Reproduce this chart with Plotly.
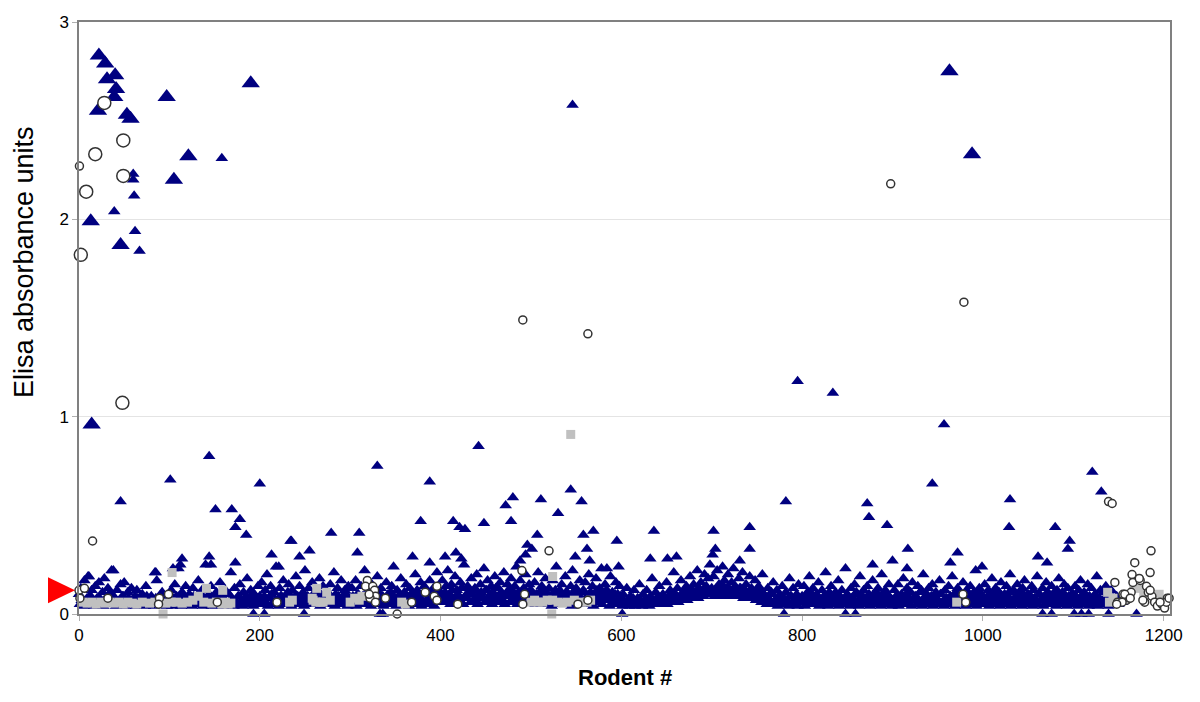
import plotly.graph_objects as go

# rodent numbers are x, Elisa absorbance is y

# dense low band of small triangles, one list per 100 rodents (even rodents)
band_0000 = [0.10, 0.13, 0.07, 0.17, 0.06, 0.19, 0.09, 0.12, 0.05, 0.14,
             0.08, 0.16, 0.06, 0.11, 0.18, 0.07, 0.13, 0.05, 0.10, 0.22,
             0.08, 0.12, 0.06, 0.15, 0.09, 0.16, 0.05, 0.11, 0.07, 0.13,
             0.06, 0.09, 0.12, 0.05, 0.08, 0.10, 0.06, 0.14, 0.07, 0.05,
             0.09, 0.06, 0.21, 0.17, 0.08, 0.05, 0.11, 0.07, 0.06, 0.09]
band_0100 = [0.07, 0.12, 0.05, 0.15, 0.09, 0.23, 0.06, 0.11, 0.08, 0.14,
             0.05, 0.10, 0.07, 0.13, 0.06, 0.09, 0.17, 0.05, 0.12, 0.08,
             0.25, 0.06, 0.10, 0.14, 0.07, 0.05, 0.11, 0.09, 0.16, 0.06,
             0.08, 0.12, 0.05, 0.10, 0.21, 0.07, 0.13, 0.06, 0.09, 0.15,
             0.05, 0.11, 0.08, 0.18, 0.06, 0.12, 0.07, 0.10, 0.05, 0.14]
band_0200 = [0.09, 0.16, 0.06, 0.12, 0.20, 0.08, 0.14, 0.05, 0.11, 0.24,
             0.07, 0.13, 0.09, 0.17, 0.06, 0.10, 0.15, 0.08, 0.12, 0.05,
             0.19, 0.09, 0.14, 0.07, 0.11, 0.22, 0.06, 0.13, 0.08, 0.16,
             0.10, 0.05, 0.12, 0.18, 0.07, 0.14, 0.09, 0.11, 0.06, 0.15,
             0.08, 0.21, 0.10, 0.13, 0.06, 0.17, 0.09, 0.12, 0.07, 0.14]
band_0300 = [0.08, 0.13, 0.06, 0.17, 0.10, 0.07, 0.14, 0.09, 0.22, 0.06,
             0.12, 0.08, 0.15, 0.05, 0.11, 0.19, 0.07, 0.13, 0.09, 0.06,
             0.16, 0.10, 0.08, 0.14, 0.24, 0.07, 0.12, 0.09, 0.18, 0.06,
             0.11, 0.15, 0.08, 0.13, 0.10, 0.07, 0.20, 0.12, 0.09, 0.16,
             0.06, 0.14, 0.11, 0.08, 0.17, 0.10, 0.13, 0.07, 0.21, 0.09]
band_0400 = [0.11, 0.17, 0.08, 0.14, 0.22, 0.10, 0.15, 0.07, 0.19, 0.12,
             0.09, 0.16, 0.13, 0.25, 0.08, 0.14, 0.11, 0.18, 0.07, 0.13,
             0.20, 0.10, 0.15, 0.09, 0.23, 0.12, 0.17, 0.08, 0.14, 0.11,
             0.19, 0.07, 0.13, 0.16, 0.10, 0.21, 0.09, 0.15, 0.12, 0.18,
             0.08, 0.14, 0.24, 0.11, 0.17, 0.09, 0.13, 0.20, 0.10, 0.15]
band_0500 = [0.12, 0.08, 0.16, 0.10, 0.21, 0.07, 0.14, 0.11, 0.18, 0.09,
             0.13, 0.06, 0.17, 0.10, 0.24, 0.08, 0.12, 0.15, 0.07, 0.19,
             0.11, 0.09, 0.14, 0.22, 0.08, 0.13, 0.10, 0.17, 0.06, 0.12,
             0.16, 0.09, 0.20, 0.11, 0.14, 0.07, 0.18, 0.10, 0.13, 0.23,
             0.08, 0.15, 0.12, 0.09, 0.19, 0.11, 0.07, 0.16, 0.10, 0.14]
band_0600 = [0.06, 0.10, 0.05, 0.13, 0.07, 0.09, 0.05, 0.12, 0.06, 0.08,
             0.15, 0.05, 0.10, 0.07, 0.12, 0.06, 0.09, 0.18, 0.07, 0.11,
             0.06, 0.14, 0.08, 0.10, 0.07, 0.16, 0.09, 0.12, 0.08, 0.21,
             0.10, 0.13, 0.08, 0.17, 0.11, 0.09, 0.14, 0.12, 0.19, 0.10,
             0.15, 0.11, 0.22, 0.13, 0.16, 0.12, 0.20, 0.14, 0.18, 0.25]
band_0700 = [0.13, 0.19, 0.11, 0.22, 0.15, 0.12, 0.24, 0.17, 0.13, 0.20,
             0.11, 0.16, 0.23, 0.14, 0.10, 0.18, 0.13, 0.21, 0.12, 0.15,
             0.10, 0.19, 0.13, 0.11, 0.17, 0.09, 0.14, 0.12, 0.20, 0.10,
             0.08, 0.13, 0.06, 0.11, 0.16, 0.07, 0.12, 0.09, 0.05, 0.14,
             0.08, 0.11, 0.06, 0.18, 0.09, 0.13, 0.07, 0.10, 0.15, 0.06]
band_0800 = [0.09, 0.14, 0.06, 0.11, 0.19, 0.08, 0.13, 0.05, 0.10, 0.16,
             0.07, 0.12, 0.09, 0.21, 0.06, 0.11, 0.14, 0.08, 0.10, 0.05,
             0.17, 0.09, 0.12, 0.07, 0.23, 0.10, 0.06, 0.13, 0.08, 0.15,
             0.11, 0.07, 0.19, 0.09, 0.12, 0.06, 0.14, 0.10, 0.08, 0.17,
             0.06, 0.11, 0.13, 0.09, 0.20, 0.07, 0.12, 0.10, 0.15, 0.08]
band_0900 = [0.07, 0.12, 0.09, 0.15, 0.06, 0.10, 0.18, 0.08, 0.13, 0.05,
             0.11, 0.16, 0.07, 0.09, 0.14, 0.06, 0.12, 0.20, 0.08, 0.10,
             0.13, 0.06, 0.15, 0.09, 0.11, 0.07, 0.17, 0.10, 0.05, 0.12,
             0.08, 0.14, 0.09, 0.19, 0.06, 0.11, 0.13, 0.07, 0.10, 0.16,
             0.08, 0.12, 0.06, 0.14, 0.09, 0.11, 0.22, 0.07, 0.13, 0.10]
band_1000 = [0.09, 0.15, 0.07, 0.12, 0.10, 0.18, 0.06, 0.13, 0.08, 0.11,
             0.16, 0.07, 0.10, 0.14, 0.09, 0.20, 0.06, 0.12, 0.08, 0.15,
             0.11, 0.07, 0.13, 0.17, 0.09, 0.10, 0.06, 0.14, 0.12, 0.08,
             0.19, 0.10, 0.07, 0.13, 0.09, 0.16, 0.11, 0.06, 0.14, 0.10,
             0.08, 0.12, 0.18, 0.07, 0.11, 0.15, 0.09, 0.13, 0.06, 0.10]
band_1100 = [0.10, 0.14, 0.07, 0.12, 0.17, 0.08, 0.11, 0.06, 0.15, 0.09,
             0.13, 0.07, 0.10, 0.19, 0.08, 0.12, 0.06, 0.11, 0.14, 0.09,
             0.07, 0.12, 0.08, 0.06, 0.09, 0.05, 0.07, 0.06]

# lower part of the band (odd rodents)
base_0000 = [0.05, 0.07, 0.04, 0.06, 0.08, 0.05, 0.09, 0.06, 0.04, 0.07,
             0.05, 0.08, 0.06, 0.04, 0.07, 0.05, 0.10, 0.06, 0.05, 0.08,
             0.04, 0.06, 0.07, 0.05, 0.09, 0.04, 0.06, 0.08, 0.05, 0.07,
             0.06, 0.04, 0.08, 0.05, 0.07, 0.06, 0.04, 0.09, 0.05, 0.06,
             0.07, 0.04, 0.08, 0.05, 0.06, 0.10, 0.05, 0.07, 0.04, 0.06]
base_0100 = [0.06, 0.04, 0.08, 0.05, 0.07, 0.09, 0.04, 0.06, 0.05, 0.08,
             0.07, 0.05, 0.04, 0.09, 0.06, 0.07, 0.05, 0.10, 0.04, 0.06,
             0.08, 0.05, 0.07, 0.04, 0.06, 0.09, 0.05, 0.08, 0.06, 0.04,
             0.07, 0.10, 0.05, 0.06, 0.08, 0.04, 0.07, 0.05, 0.09, 0.06,
             0.04, 0.08, 0.06, 0.05, 0.07, 0.10, 0.04, 0.06, 0.08, 0.05]
base_0200 = [0.07, 0.05, 0.09, 0.06, 0.04, 0.08, 0.10, 0.05, 0.07, 0.06,
             0.04, 0.09, 0.06, 0.08, 0.05, 0.11, 0.07, 0.04, 0.06, 0.09,
             0.05, 0.08, 0.06, 0.10, 0.04, 0.07, 0.09, 0.05, 0.06, 0.08,
             0.11, 0.05, 0.07, 0.04, 0.09, 0.06, 0.08, 0.05, 0.10, 0.07,
             0.06, 0.04, 0.08, 0.09, 0.05, 0.07, 0.06, 0.10, 0.04, 0.08]
base_0300 = [0.05, 0.09, 0.07, 0.04, 0.10, 0.06, 0.08, 0.05, 0.07, 0.11,
             0.06, 0.04, 0.09, 0.07, 0.05, 0.08, 0.10, 0.06, 0.04, 0.07,
             0.09, 0.05, 0.11, 0.06, 0.08, 0.04, 0.07, 0.10, 0.05, 0.09,
             0.06, 0.08, 0.04, 0.07, 0.11, 0.05, 0.06, 0.09, 0.08, 0.04,
             0.10, 0.06, 0.07, 0.05, 0.09, 0.08, 0.04, 0.11, 0.06, 0.07]
base_0400 = [0.08, 0.06, 0.11, 0.07, 0.09, 0.05, 0.12, 0.08, 0.06, 0.10,
             0.07, 0.13, 0.05, 0.09, 0.08, 0.11, 0.06, 0.10, 0.12, 0.07,
             0.05, 0.09, 0.11, 0.08, 0.06, 0.12, 0.07, 0.10, 0.05, 0.09,
             0.13, 0.06, 0.08, 0.11, 0.07, 0.05, 0.10, 0.12, 0.06, 0.09,
             0.11, 0.07, 0.05, 0.10, 0.08, 0.12, 0.06, 0.09, 0.11, 0.07]
base_0500 = [0.07, 0.10, 0.05, 0.09, 0.06, 0.12, 0.08, 0.05, 0.11, 0.07,
             0.09, 0.04, 0.08, 0.12, 0.06, 0.10, 0.05, 0.09, 0.07, 0.11,
             0.06, 0.08, 0.04, 0.10, 0.12, 0.05, 0.09, 0.07, 0.11, 0.06,
             0.08, 0.05, 0.10, 0.07, 0.04, 0.09, 0.12, 0.06, 0.08, 0.05,
             0.11, 0.07, 0.09, 0.04, 0.08, 0.06, 0.10, 0.05, 0.07, 0.09]
base_0600 = [0.04, 0.06, 0.05, 0.07, 0.04, 0.05, 0.08, 0.04, 0.06, 0.05,
             0.07, 0.04, 0.06, 0.08, 0.05, 0.04, 0.07, 0.06, 0.05, 0.08,
             0.06, 0.05, 0.09, 0.06, 0.07, 0.05, 0.08, 0.06, 0.10, 0.07,
             0.08, 0.06, 0.09, 0.07, 0.11, 0.08, 0.07, 0.10, 0.08, 0.12,
             0.09, 0.11, 0.08, 0.12, 0.10, 0.09, 0.13, 0.11, 0.10, 0.12]
base_0700 = [0.11, 0.09, 0.13, 0.10, 0.12, 0.09, 0.14, 0.11, 0.10, 0.13,
             0.09, 0.12, 0.10, 0.11, 0.09, 0.13, 0.10, 0.08, 0.12, 0.09,
             0.11, 0.08, 0.10, 0.09, 0.07, 0.11, 0.08, 0.06, 0.09, 0.07,
             0.05, 0.08, 0.06, 0.10, 0.05, 0.07, 0.04, 0.09, 0.06, 0.08,
             0.05, 0.07, 0.04, 0.09, 0.06, 0.05, 0.08, 0.04, 0.07, 0.06]
base_0800 = [0.06, 0.04, 0.08, 0.05, 0.07, 0.10, 0.05, 0.06, 0.09, 0.04,
             0.07, 0.05, 0.08, 0.06, 0.04, 0.09, 0.07, 0.05, 0.11, 0.06,
             0.04, 0.08, 0.05, 0.07, 0.06, 0.09, 0.04, 0.08, 0.05, 0.10,
             0.06, 0.04, 0.07, 0.09, 0.05, 0.08, 0.06, 0.04, 0.07, 0.10,
             0.05, 0.08, 0.06, 0.04, 0.09, 0.05, 0.07, 0.06, 0.08, 0.04]
base_0900 = [0.05, 0.08, 0.06, 0.04, 0.09, 0.07, 0.05, 0.10, 0.06, 0.08,
             0.04, 0.07, 0.09, 0.05, 0.06, 0.11, 0.04, 0.08, 0.06, 0.07,
             0.05, 0.09, 0.04, 0.07, 0.08, 0.05, 0.10, 0.06, 0.04, 0.08,
             0.07, 0.05, 0.06, 0.09, 0.04, 0.08, 0.05, 0.10, 0.07, 0.06,
             0.04, 0.09, 0.05, 0.07, 0.06, 0.08, 0.04, 0.10, 0.05, 0.07]
base_1000 = [0.07, 0.05, 0.09, 0.04, 0.08, 0.06, 0.10, 0.05, 0.07, 0.04,
             0.09, 0.06, 0.08, 0.05, 0.11, 0.04, 0.07, 0.06, 0.09, 0.05,
             0.08, 0.04, 0.10, 0.06, 0.07, 0.05, 0.09, 0.04, 0.08, 0.06,
             0.05, 0.10, 0.07, 0.04, 0.08, 0.06, 0.09, 0.05, 0.07, 0.11,
             0.04, 0.06, 0.08, 0.05, 0.10, 0.07, 0.04, 0.09, 0.06, 0.05]
base_1100 = [0.06, 0.09, 0.04, 0.07, 0.05, 0.10, 0.06, 0.08, 0.04, 0.07,
             0.05, 0.09, 0.06, 0.04, 0.08, 0.05, 0.07, 0.06, 0.09, 0.04,
             0.06, 0.05, 0.07]

# small triangles standing out of the band
tri_x = [546, 795, 834, 957, 442, 144, 330, 101, 388, 200, 944, 1121, 1131,
         46, 544, 480, 556, 1030, 151, 169, 178, 173, 185, 782, 872, 874,
         894, 1029, 1080, 1096, 1094, 972, 1061, 1071, 999, 964, 636, 595,
         702, 742, 742, 704, 917, 632, 661, 651, 584, 597, 701, 731, 900,
         916, 878, 511, 472, 530, 378, 414, 421, 427, 448, 478, 279, 310,
         235, 558, 569, 507, 496, 562, 565, 549, 255, 308, 369, 388, 405,
         417, 423, 488, 494, 501, 244, 114, 112, 144, 146, 173, 213, 234,
         221, 104, 36, 85, 11, 60, 60, 61, 39, 62, 158, 67]
tri_y = [2.58, 1.18, 1.12, 0.96, 0.85, 0.80, 0.75, 0.68, 0.67, 0.66, 0.66,
         0.72, 0.62, 0.57, 0.63, 0.59, 0.57, 0.58, 0.53, 0.53, 0.48, 0.44,
         0.40, 0.57, 0.56, 0.49, 0.45, 0.44, 0.44, 0.37, 0.33, 0.31, 0.29,
         0.26, 0.24, 0.26, 0.42, 0.37, 0.42, 0.44, 0.33, 0.33, 0.33, 0.28,
         0.29, 0.28, 0.23, 0.24, 0.30, 0.27, 0.27, 0.23, 0.25, 0.58, 0.55,
         0.51, 0.47, 0.47, 0.44, 0.43, 0.46, 0.47, 0.41, 0.41, 0.37, 0.40,
         0.42, 0.40, 0.35, 0.33, 0.27, 0.29, 0.32, 0.31, 0.29, 0.26, 0.29,
         0.31, 0.28, 0.27, 0.30, 0.33, 0.29, 0.28, 0.25, 0.29, 0.25, 0.26,
         0.30, 0.37, 0.24, 0.23, 0.22, 0.21, 0.19, 2.23, 2.20, 2.12, 2.04,
         1.94, 2.31, 1.84]

# small triangles sitting on zero
zero_x = [193, 205, 249, 333, 336, 601, 780, 848, 859, 1066, 1076, 1101,
          1109, 1117, 1139, 1170]
zero_y = [0.0] * len(zero_x)

# large triangles
big_tri_x = [22, 29, 40, 31, 41, 39, 21, 53, 57, 97, 190, 121, 105, 13, 46,
             14, 963, 988]
big_tri_y = [2.83, 2.79, 2.73, 2.71, 2.66, 2.62, 2.55, 2.53, 2.51, 2.62, 2.69,
             2.32, 2.20, 1.99, 1.87, 0.96, 2.75, 2.33]

# large open circles
big_circ_x = [28, 49, 18, 49, 8, 2, 48]
big_circ_y = [2.59, 2.40, 2.33, 2.22, 2.14, 1.82, 1.07]

# small open circles
circ_x = [0, 6, 1, 32, 89, 88, 99, 15, 0.5, 153, 219,
          319, 317, 325, 327, 328, 322, 328, 339, 321, 368, 396, 383, 393,
          396, 419, 490, 493, 491, 520, 552, 563, 352, 491, 563, 898, 979,
          978, 981, 1139, 1143,
          1186, 1168, 1185, 1146, 1165, 1166, 1174, 1181, 1183, 1204, 1155,
          1159, 1149, 1162, 1179, 1187, 1190, 1193, 1198, 1201, 1203, 1185,
          1164, 1173, 1177, 1196, 1206, 1154, 1148, 1157, 1163]
circ_y = [0.12, 0.13, 0.08, 0.08, 0.08, 0.05, 0.10, 0.37, 2.27, 0.06, 0.06,
          0.17, 0.14, 0.14, 0.12, 0.09, 0.08, 0.06, 0.08, 0.10, 0.06, 0.14,
          0.11, 0.09, 0.07, 0.05, 0.22, 0.10, 0.05, 0.32, 0.05, 0.07, 0.0,
          1.49, 1.42, 2.18, 1.58, 0.10, 0.06, 0.57, 0.56,
          0.32, 0.26, 0.21, 0.16, 0.20, 0.16, 0.17, 0.14, 0.11, 0.08, 0.10,
          0.07, 0.06, 0.08, 0.06, 0.09, 0.06, 0.04, 0.05, 0.03, 0.06, 0.12,
          0.11, 0.18, 0.07, 0.06, 0.08, 0.06, 0.05, 0.10, 0.08]

# grey squares
sq_x = [544, 103, 141, 159, 165, 93, 233, 263, 259, 267, 274, 313, 357, 361,
        504, 513, 524, 524, 523, 540, 562, 1138, 1140, 1172, 1195, 971,
        4, 9, 14, 19, 24, 29, 34, 39, 44, 49, 54, 59, 64, 70, 78, 84, 96,
        102, 108, 114, 120, 126, 132, 138, 147, 152, 158, 162, 168, 236,
        258, 262, 270, 278, 300, 305, 310, 500, 508, 518, 530, 535, 548,
        556, 566, 1144, 1167, 1178, 1190]
sq_y = [0.91, 0.21, 0.13, 0.12, 0.05, 0.0, 0.06, 0.13, 0.07, 0.06, 0.11,
        0.09, 0.06, 0.05, 0.07, 0.06, 0.19, 0.07, 0.0, 0.06, 0.06, 0.11, 0.06,
        0.13, 0.10, 0.06,
        0.06, 0.055, 0.06, 0.05, 0.06, 0.055, 0.06, 0.055, 0.06, 0.05, 0.06,
        0.055, 0.05, 0.06, 0.055, 0.06, 0.055, 0.06, 0.06, 0.055, 0.06, 0.07,
        0.09, 0.06, 0.055, 0.06, 0.05, 0.06, 0.055, 0.07, 0.08, 0.06, 0.06,
        0.07, 0.06, 0.08, 0.07, 0.06, 0.06, 0.07, 0.06, 0.055, 0.07, 0.06,
        0.07, 0.08, 0.15, 0.11, 0.09]

cutoff = 0.12

NAVY = "#000080"
FONT = "Liberation Sans, Arial, sans-serif"


def band_points(blocks, first):
    xs, ys = [], []
    for start, vals in blocks:
        for i, v in enumerate(vals):
            xs.append(start + first + 2 * i)
            ys.append(v)
    return xs, ys


def plot_elisa():
    starts = [0, 100, 200, 300, 400, 500, 600, 700, 800, 900, 1000, 1100]
    top = [band_0000, band_0100, band_0200, band_0300, band_0400, band_0500,
           band_0600, band_0700, band_0800, band_0900, band_1000, band_1100]
    low = [base_0000, base_0100, base_0200, base_0300, base_0400, base_0500,
           base_0600, base_0700, base_0800, base_0900, base_1000, base_1100]
    bx, by = band_points(zip(starts, top), 0)
    lx, ly = band_points(zip(starts, low), 1)

    fig = go.Figure()

    tri = dict(symbol="triangle-up", color=NAVY, size=11, line=dict(width=0))
    fig.add_trace(go.Scatter(x=lx, y=ly, mode="markers", marker=tri))
    fig.add_trace(go.Scatter(x=bx, y=by, mode="markers", marker=tri))
    fig.add_trace(go.Scatter(x=tri_x, y=tri_y, mode="markers", marker=tri))
    fig.add_trace(go.Scatter(x=zero_x, y=zero_y, mode="markers", marker=tri))
    fig.add_trace(go.Scatter(
        x=big_tri_x, y=big_tri_y, mode="markers",
        marker=dict(symbol="triangle-up", color=NAVY, size=16, line=dict(width=0))
    ))
    fig.add_trace(go.Scatter(
        x=sq_x, y=sq_y, mode="markers",
        marker=dict(symbol="square", color="#c0c0c0", size=9, line=dict(width=0))
    ))
    fig.add_trace(go.Scatter(
        x=circ_x, y=circ_y, mode="markers",
        marker=dict(symbol="circle", color="white", size=8,
                    line=dict(color="#333333", width=1.5))
    ))
    fig.add_trace(go.Scatter(
        x=big_circ_x, y=big_circ_y, mode="markers",
        marker=dict(symbol="circle", color="white", size=13,
                    line=dict(color="#333333", width=1.5))
    ))
    fig.update_traces(cliponaxis=False, hoverinfo="x+y")

    # red marker at the cut-off, just left of the y axis
    fig.add_shape(
        type="path", xref="paper", yref="y", xsizemode="pixel",
        ysizemode="pixel", xanchor=0, yanchor=cutoff,
        path="M -31 -13 L -4 0 L -31 13 Z",
        fillcolor="#ff0000", line=dict(width=0)
    )

    fig.update_layout(
        width=1200, height=702,
        margin=dict(l=71, r=38, t=14, b=96, autoexpand=False),
        plot_bgcolor="white", paper_bgcolor="white",
        showlegend=False,
        font=dict(family=FONT, size=17, color="black"),
        xaxis=dict(
            range=[0, 1207], tickvals=[0, 200, 400, 600, 800, 1000, 1200],
            showgrid=False, zeroline=False, automargin=False,
            showline=True, linecolor="#808080", linewidth=1.5, mirror=True,
            ticks="outside", ticklen=5, tickcolor="#b0b0b0"
        ),
        yaxis=dict(
            range=[0, 3], tickvals=[0, 1, 2, 3],
            showgrid=True, gridcolor="#e4e4e4", zeroline=False,
            automargin=False,
            showline=True, linecolor="#808080", linewidth=1.5, mirror=True,
            ticks="outside", ticklen=5, tickcolor="#b0b0b0"
        ),
        annotations=[
            dict(text="Elisa absorbance units", xref="paper", yref="paper",
                 x=-0.051, y=0.595, textangle=-90, showarrow=False,
                 xanchor="center", yanchor="middle",
                 font=dict(family=FONT, size=27)),
            dict(text="<b>Rodent #</b>", xref="paper", yref="paper",
                 x=0.5, y=-0.108, showarrow=False,
                 xanchor="center", yanchor="middle",
                 font=dict(family=FONT, size=22)),
        ]
    )
    return fig


fig = plot_elisa()
fig.write_html("out.html")
